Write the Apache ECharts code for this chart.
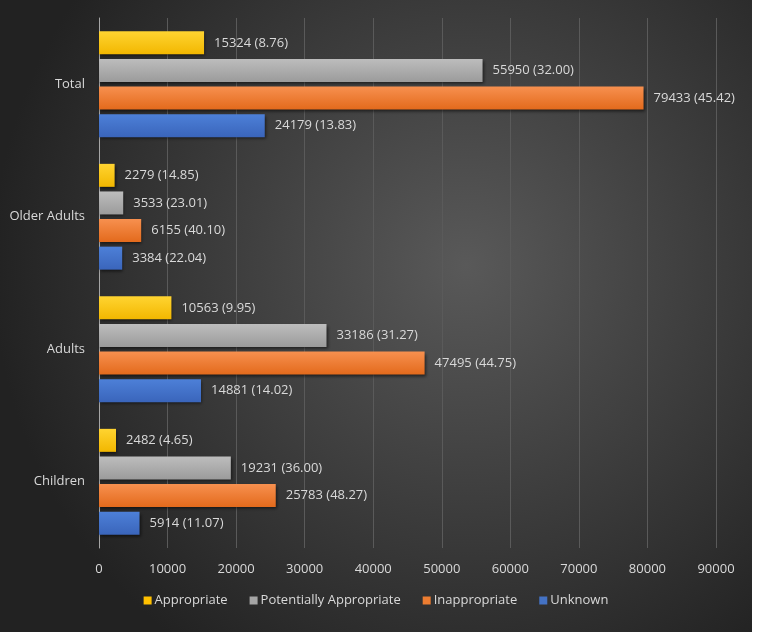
<!DOCTYPE html>
<html>
<head>
<meta charset="utf-8">
<script src="https://cdn.jsdelivr.net/npm/echarts@6/dist/echarts.min.js"></script>
<style>
html,body{margin:0;padding:0;background:#ffffff;}
#chart{width:752px;height:632px;}
</style>
</head>
<body>
<div id="chart"></div>
<script>
const categories = ['Children', 'Adults', 'Older Adults', 'Total'];
const seriesNames = ['Appropriate', 'Potentially Appropriate', 'Inappropriate', 'Unknown'];
const appropriate = [2482, 10563, 2279, 15324];
const appropriatePct = ['4.65', '9.95', '14.85', '8.76'];
const potentially = [19231, 33186, 3533, 55950];
const potentiallyPct = ['36.00', '31.27', '23.01', '32.00'];
const inappropriate = [25783, 47495, 6155, 79433];
const inappropriatePct = ['48.27', '44.75', '40.10', '45.42'];
const unknown = [5914, 14881, 3384, 24179];
const unknownPct = ['11.07', '14.02', '22.04', '13.83'];
const xTicks = { min: 0, max: 90000, interval: 10000 };

const FONT = 'Open Sans';
const textColor = '#d9d9d9';

function grad(top, bottom) {
  return new echarts.graphic.LinearGradient(0, 0, 0, 1, [
    { offset: 0, color: top },
    { offset: 1, color: bottom }
  ]);
}

const defs = [
  { name: seriesNames[0], data: appropriate, pct: appropriatePct, c: ['#ffd431', '#f2b700'], legend: '#ffc000' },
  { name: seriesNames[1], data: potentially, pct: potentiallyPct, c: ['#bdbdbd', '#9b9b9b'], legend: '#a5a5a5' },
  { name: seriesNames[2], data: inappropriate, pct: inappropriatePct, c: ['#f7904f', '#e36a1c'], legend: '#ed7d31' },
  { name: seriesNames[3], data: unknown, pct: unknownPct, c: ['#4d80d8', '#3a65bb'], legend: '#4472c4' }
];

const series = defs.map(d => ({
  name: d.name,
  type: 'bar',
  data: d.data,
  barWidth: 23,
  barGap: '20%',
  color: d.legend,
  itemStyle: {
    color: grad(d.c[0], d.c[1]),
    shadowColor: 'rgba(0,0,0,0.55)',
    shadowBlur: 3,
    shadowOffsetX: 1,
    shadowOffsetY: 2
  },
  label: {
    show: true,
    position: 'right',
    distance: 10,
    color: textColor,
    fontFamily: FONT,
    fontSize: 13,
    formatter: p => p.value + ' (' + d.pct[p.dataIndex] + ')'
  }
}));

const chart = echarts.init(document.getElementById('chart'), null, { renderer: 'canvas' });
chart.setOption({
  backgroundColor: new echarts.graphic.RadialGradient(0.62, 0.42, 0.75, [
    { offset: 0, color: '#595959' },
    { offset: 1, color: '#222222' }
  ]),
  animation: false,
  textStyle: { fontFamily: FONT },
  grid: { left: 99, right: 36, top: 18, bottom: 84, containLabel: false },
  legend: {
    data: defs.map(d => ({ name: d.name, itemStyle: { color: d.legend } })),
    bottom: 20,
    left: 'center',
    icon: 'rect',
    itemWidth: 8,
    itemHeight: 8,
    itemGap: 22,
    textStyle: { color: textColor, fontSize: 13, fontFamily: FONT, padding: [0, 0, 0, -2] }
  },
  xAxis: {
    type: 'value',
    min: xTicks.min,
    max: xTicks.max,
    interval: xTicks.interval,
    axisLine: { show: false },
    axisTick: { show: false },
    splitLine: { show: true, lineStyle: { color: '#5a5a5a', width: 1 } },
    axisLabel: { color: textColor, fontSize: 13, fontFamily: FONT, margin: 15, formatter: v => String(v) }
  },
  yAxis: {
    type: 'category',
    data: categories,
    axisLine: { show: true, lineStyle: { color: '#a6a6a6', width: 1 } },
    axisTick: { show: false },
    axisLabel: { color: textColor, fontSize: 13, fontFamily: FONT, margin: 14 }
  },
  series: series
});
</script>
</body>
</html>
